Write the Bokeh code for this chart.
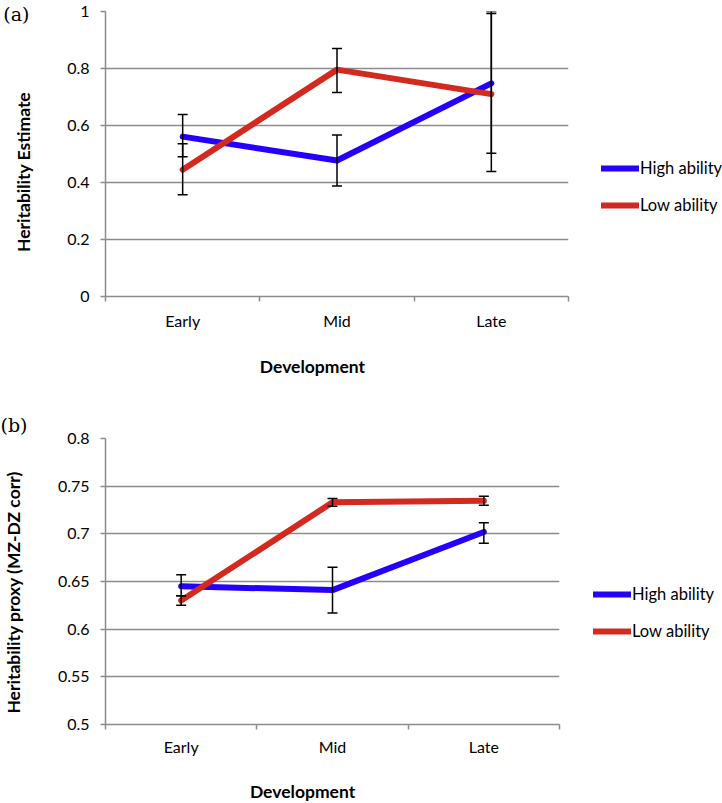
from bokeh.plotting import figure
from bokeh.models import (Range1d, FixedTicker, Whisker, ColumnDataSource, Legend,
                          LegendItem, LinearAxis, TeeHead)
from bokeh.layouts import column
from bokeh.embed import file_html
from bokeh.resources import INLINE

# ---------------- data ----------------
categories = ["Early", "Mid", "Late"]
series_names = ["High ability", "Low ability"]
x_title = "Development"

# panel (a): heritability estimate
a_title = "Heritability Estimate"
a_high = [0.561, 0.477, 0.748]
a_high_lo = [0.490, 0.388, 0.503]
a_high_hi = [0.639, 0.567, 0.993]
a_low = [0.445, 0.796, 0.710]
a_low_lo = [0.357, 0.716, 0.439]
a_low_hi = [0.536, 0.870, 1.000]
a_yticks = [0.0, 0.2, 0.4, 0.6, 0.8, 1.0]
a_ylabels = ["0", "0.2", "0.4", "0.6", "0.8", "1"]

# panel (b): heritability proxy (MZ-DZ corr)
b_title = "Heritability proxy (MZ-DZ corr)"
b_high = [0.645, 0.641, 0.702]
b_high_lo = [0.635, 0.617, 0.690]
b_high_hi = [0.657, 0.665, 0.7115]
b_low = [0.630, 0.733, 0.7346]
b_low_lo = [0.625, 0.729, 0.730]
b_low_hi = [0.635, 0.737, 0.7395]
b_yticks = [0.5, 0.55, 0.6, 0.65, 0.7, 0.75, 0.8]
b_ylabels = ["0.5", "0.55", "0.6", "0.65", "0.7", "0.75", "0.8"]

BLUE = "#2400ff"
RED = "#d3291e"
GRAY = "#8c8c8c"
FONT = "Lato"
TAG_FONT = "DejaVu Serif"
TITLE_SIZE = "17.5px"


def label_axis(tick, text, standoff, font, size, style, orientation="horizontal"):
    """An axis without line or ticks that only carries one text label."""
    ax = LinearAxis(ticker=FixedTicker(ticks=[tick], minor_ticks=[]))
    ax.major_label_overrides = {tick: text}
    ax.axis_line_color = None
    ax.major_tick_line_color = None
    ax.minor_tick_line_color = None
    ax.major_tick_out = 0
    ax.major_tick_in = 0
    ax.minor_tick_out = 0
    ax.minor_tick_in = 0
    ax.major_label_standoff = standoff
    ax.major_label_text_font = font
    ax.major_label_text_font_size = size
    ax.major_label_text_font_style = style
    ax.major_label_text_color = "black"
    ax.major_label_orientation = orientation
    return ax


def make_panel(ytitle, high, high_lo, high_hi, low, low_lo, low_hi,
               yticks, ylabels, ymin, ymax,
               frame_w, frame_h, border_top, border_bottom,
               tick_standoff, ytitle_y, xtitle_x, xtitle_standoff, legend_pos):
    xs = [i + 0.5 for i in range(len(categories))]
    p = figure(output_backend="svg", toolbar_location=None,
               frame_width=frame_w, frame_height=frame_h,
               min_border_left=101, min_border_right=720 - 101 - frame_w,
               min_border_top=border_top, min_border_bottom=border_bottom,
               x_range=Range1d(0, len(categories)), y_range=Range1d(ymin, ymax))
    p.outline_line_color = None
    p.background_fill_color = "white"
    p.border_fill_color = "white"

    # grid
    p.xgrid.grid_line_color = None
    p.ygrid.grid_line_color = GRAY
    p.ygrid.grid_line_width = 1.5
    p.ygrid.ticker = FixedTicker(ticks=yticks)

    # y axis
    ya = p.yaxis[0]
    ya.ticker = FixedTicker(ticks=yticks, minor_ticks=[])
    ya.major_label_overrides = {t: l for t, l in zip(yticks, ylabels)}
    ya.axis_line_color = GRAY
    ya.axis_line_width = 1.5
    ya.major_tick_line_color = GRAY
    ya.major_tick_line_width = 1.5
    ya.major_tick_out = 5
    ya.major_tick_in = 0
    ya.minor_tick_line_color = None
    ya.minor_tick_out = 0
    ya.major_label_standoff = 11
    ya.major_label_text_font = FONT
    ya.major_label_text_font_size = "16px"
    ya.major_label_text_color = "black"

    # x axis (labels at category centres, ticks at category boundaries)
    xa = p.xaxis[0]
    xa.ticker = FixedTicker(ticks=xs, minor_ticks=list(range(len(categories) + 1)))
    xa.major_label_overrides = {x: c for x, c in zip(xs, categories)}
    xa.axis_line_color = GRAY
    xa.axis_line_width = 1.5
    xa.major_tick_line_color = None
    xa.major_tick_out = 0
    xa.major_tick_in = 0
    xa.minor_tick_line_color = GRAY
    xa.minor_tick_line_width = 1.5
    xa.minor_tick_out = 5
    xa.minor_tick_in = 0
    xa.major_label_standoff = tick_standoff
    xa.major_label_text_font = FONT
    xa.major_label_text_font_size = "16px"
    xa.major_label_text_color = "black"

    # axis titles
    p.add_layout(label_axis(ytitle_y, ytitle, 30, FONT, TITLE_SIZE, "bold", "vertical"), "left")
    p.add_layout(label_axis(xtitle_x, x_title, xtitle_standoff, FONT, TITLE_SIZE, "bold"), "below")

    rh = p.line(xs, high, line_color=BLUE, line_width=6, line_cap="round", line_join="round")
    rl = p.line(xs, low, line_color=RED, line_width=6, line_cap="round", line_join="round")

    for lo, hi in ((high_lo, high_hi), (low_lo, low_hi)):
        src = ColumnDataSource(dict(x=xs, lo=lo, hi=hi))
        w = Whisker(base="x", lower="lo", upper="hi", source=src, dimension="height",
                    line_color="black", line_width=1.5, level="annotation",
                    upper_head=TeeHead(size=10, line_color="black", line_width=1.5),
                    lower_head=TeeHead(size=10, line_color="black", line_width=1.5))
        p.add_layout(w)

    legend = Legend(items=[LegendItem(label=series_names[0], renderers=[rh]),
                           LegendItem(label=series_names[1], renderers=[rl])],
                    location=legend_pos, orientation="vertical",
                    glyph_width=38, glyph_height=20, label_height=20,
                    label_standoff=1, spacing=17, padding=0, margin=0,
                    border_line_color=None, background_fill_alpha=0,
                    label_text_font=FONT, label_text_font_size="16.5px",
                    label_text_color="black")
    p.add_layout(legend, "right")
    return p


p1 = make_panel(a_title, a_high, a_high_lo, a_high_hi, a_low, a_low_lo, a_low_hi,
                a_yticks, a_ylabels, 0, 1,
                frame_w=463, frame_h=285, border_top=11, border_bottom=99,
                tick_standoff=9, ytitle_y=0.437, xtitle_x=1.341, xtitle_standoff=23,
                legend_pos=(33, 81))
# panel tag "(a)" sits left of the frame top
p1.add_layout(label_axis(0.9895, "(a)", -19, TAG_FONT, "19px", "normal"), "left")

p2 = make_panel(b_title, b_high, b_high_lo, b_high_hi, b_low, b_low_lo, b_low_hi,
                b_yticks, b_ylabels, 0.5, 0.8,
                frame_w=454, frame_h=286, border_top=43, border_bottom=78,
                tick_standoff=7, ytitle_y=0.6387, xtitle_x=1.302, xtitle_standoff=22,
                legend_pos=(34, 83))
# panel tag "(b)" above the frame, at the left edge of the page
p2.title.text = "(b)"
p2.title.align = "left"
p2.title.offset = -105
p2.title.vertical_align = "bottom"
p2.title.standoff = 6
p2.title.text_font = TAG_FONT
p2.title.text_font_size = "19px"
p2.title.text_font_style = "normal"
p2.title.text_color = "black"

layout = column(p1, p2, spacing=0)
open("out.html", "w").write(file_html(layout, INLINE))
